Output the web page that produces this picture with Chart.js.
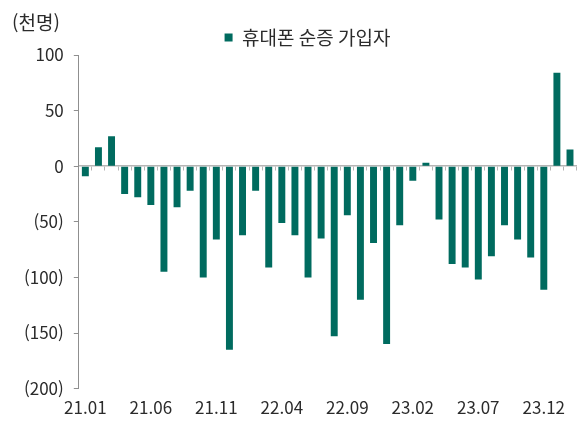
<!DOCTYPE html>
<html lang="ko">
<head>
<meta charset="utf-8">
<title>휴대폰 순증 가입자</title>
<script src="https://cdn.jsdelivr.net/npm/chart.js@4.4.1/dist/chart.umd.min.js"></script>
<style>
  html, body { margin: 0; padding: 0; background: #fff; }
  #wrap { width: 579px; height: 427px; position: relative; }
</style>
</head>
<body>
<div id="wrap"><canvas id="subsChart"></canvas></div>
<script>
const months = [
  '21.01', '21.02', '21.03', '21.04', '21.05', '21.06', '21.07', '21.08', '21.09', '21.10', '21.11', '21.12',
  '22.01', '22.02', '22.03', '22.04', '22.05', '22.06', '22.07', '22.08', '22.09', '22.10', '22.11', '22.12',
  '23.01', '23.02', '23.03', '23.04', '23.05', '23.06', '23.07', '23.08', '23.09', '23.10', '23.11', '23.12',
  '24.01', '24.02'
];
const netAdds = [
  -9, 17, 27, -25, -28, -35, -95, -37, -22, -100, -66, -165,
  -62, -22, -91, -51, -62, -100, -65, -153, -44, -120, -69, -160,
  -53, -13, 3, -48, -88, -91, -102, -81, -53, -66, -82, -111,
  84, 15
];
const seriesName = '휴대폰 순증 가입자';
const unitLabel = '(천명)';
const yTicks = { min: -200, max: 100, step: 50 };

const FONT = '"Noto Sans CJK KR", "Noto Sans", sans-serif';
const TEXT = '#2b2b2b';
const AXIS = '#8f8f8f';
const BAR = '#006b5f';

// unit caption in the top-left corner
const unitPlugin = {
  id: 'unitText',
  afterDraw(chart) {
    const ctx = chart.ctx;
    ctx.save();
    ctx.font = `19px ${FONT}`;
    ctx.fillStyle = TEXT;
    ctx.textBaseline = 'middle';
    ctx.textAlign = 'left';
    ctx.fillText(unitLabel, 12, 23);
    ctx.restore();
  }
};

// nudge the centered legend a bit, as in the source
const legendShift = {
  id: 'legendShift',
  afterLayout(chart) {
    if (chart.legend) {
      chart.legend.left += 11;
      chart.legend.right += 11;
      chart.legend.top += 2;
    }
  }
};

document.addEventListener('DOMContentLoaded', () => {
  const ctx = document.getElementById('subsChart').getContext('2d');
  new Chart(ctx, {
    type: 'bar',
    data: {
      labels: months,
      datasets: [{
        label: seriesName,
        data: netAdds,
        backgroundColor: BAR,
        borderWidth: 0,
        barPercentage: 0.53,
        categoryPercentage: 1
      }]
    },
    options: {
      responsive: true,
      maintainAspectRatio: false,
      animation: false,
      layout: { padding: { top: 16, left: 14, right: 0, bottom: 0 } },
      plugins: {
        tooltip: { enabled: false },
        legend: {
          position: 'top',
          labels: {
            boxWidth: 8,
            boxHeight: 8,
            padding: 10,
            color: TEXT,
            font: { family: FONT, size: 19 }
          }
        }
      },
      scales: {
        x: {
          type: 'category',
          position: 'bottom',
          offset: true,
          grid: { display: false, drawTicks: false },
          border: { display: false },
          ticks: {
            autoSkip: false,
            maxRotation: 0,
            padding: 9,
            color: TEXT,
            font: { family: FONT, size: 17 },
            callback: (v, i) => (i % 5 === 0 ? months[i] : '')
          }
        },
        xZero: {
          type: 'category',
          position: { y: 0 },
          offset: true,
          grid: { offset: true, drawOnChartArea: false, drawTicks: true, tickLength: 4, color: '#b5b5b5' },
          border: { display: true, color: '#b5b5b5', width: 1.5 },
          ticks: { display: false }
        },
        y: {
          min: yTicks.min,
          max: yTicks.max,
          grid: { drawOnChartArea: false, drawTicks: true, tickLength: 5, color: AXIS },
          border: { display: true, color: AXIS },
          ticks: {
            stepSize: yTicks.step,
            padding: 10,
            color: TEXT,
            font: { family: FONT, size: 17 },
            callback: v => (v < 0 ? `(${-v})` : `${v}`)
          }
        }
      }
    },
    plugins: [unitPlugin, legendShift]
  });
});
</script>
</body>
</html>
